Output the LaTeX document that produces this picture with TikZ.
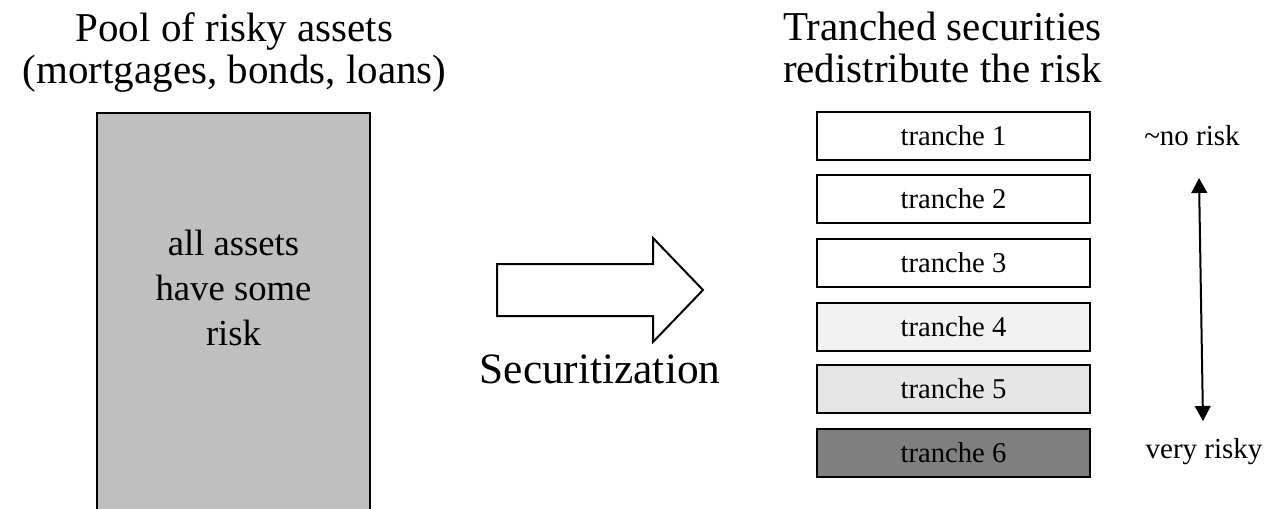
\documentclass[tikz,border=0pt]{standalone}
\usepackage{fontspec}
\setmainfont{Liberation Serif}
\usetikzlibrary{arrows.meta}
\definecolor{poolgray}{HTML}{BFBFBF}
\definecolor{tfour}{HTML}{F2F2F2}
\definecolor{tfive}{HTML}{E6E6E6}
\definecolor{tsix}{HTML}{7F7F7F}
\tikzset{
  heading/.style={font=\fontsize{30.75}{31.5}\selectfont, align=center, inner sep=0pt, anchor=north},
  poolbox/.style={draw=black, line width=1.6pt, fill=poolgray, minimum width=204.75pt, minimum height=312.75pt, inner sep=0pt},
  pooltext/.style={font=\fontsize{27.5}{33.75}\selectfont, align=center, inner sep=0pt, anchor=north},
  tranchebox/.style={draw=black, line width=1.5pt, minimum width=204.75pt, minimum height=36pt, inner sep=0pt, font=\fontsize{21.5}{24}\selectfont},
  smalltext/.style={font=\fontsize{21.75}{24}\selectfont, inner sep=0pt, anchor=base},
  blockarrow/.style={draw=black, line width=1.5pt, fill=white, line join=miter},
  riskarrow/.style={line width=1.5pt, {Triangle[width=11.8pt,length=11.25pt]}-{Triangle[width=11.8pt,length=11.25pt]}}
}
\begin{document}
\begin{tikzpicture}[x=0.75pt, y=-0.75pt]
\useasboundingbox (0,0) rectangle (1266,508);
\clip (0,0) rectangle (1266,508);
\fill[white] (0,0) rectangle (1266,508);

% left heading and pool
\node[heading] (lhead) at (234.5,12) {Pool of risky assets\\(mortgages, bonds, loans)};
\node[poolbox] (pool) at (233.5,321.5) {};
\node[pooltext] (pooltxt) at (233.5,230) {all assets\\have some\\risk};

% block arrow
\draw[blockarrow] (497,264) -- (653,264) -- (653,238) -- (703,290) -- (653,342) -- (653,316) -- (497,316) -- cycle;
\node[font=\fontsize{32.5}{36}\selectfont, inner sep=0pt, anchor=base] (sec) at (600,383) {Securitization};

% right heading and tranches
\node[heading] (rhead) at (942.5,12) {Tranched securities\\redistribute the risk};
\node[tranchebox, fill=white] (t1) at (953.5,136) {tranche 1};
\node[tranchebox, fill=white] (t2) at (953.5,198.5) {tranche 2};
\node[tranchebox, fill=white] (t3) at (953.5,263) {tranche 3};
\node[tranchebox, fill=tfour] (t4) at (953.5,327) {tranche 4};
\node[tranchebox, fill=tfive] (t5) at (953.5,389) {tranche 5};
\node[tranchebox, fill=tsix] (t6) at (953.5,453) {tranche 6};

% risk scale
\node[smalltext] (norisk) at (1192,145) {\textasciitilde no risk};
\node[smalltext] (veryrisky) at (1204,458) {very risky};
\coordinate (atop) at (1199,178);
\coordinate (abot) at (1203,421);
\draw[riskarrow] (abot) -- (atop);
\end{tikzpicture}
\end{document}
